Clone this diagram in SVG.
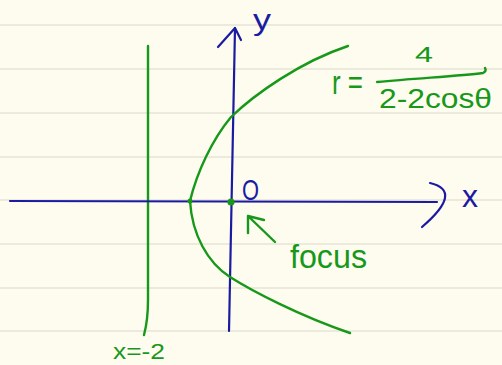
<svg xmlns="http://www.w3.org/2000/svg" width="502" height="365" viewBox="0 0 502 365">
<style>
.paper{stroke:#e6e4d6;stroke-width:1.6}
.blue{stroke:#1b1ba2;stroke-width:2.2;fill:none;stroke-linecap:round;stroke-linejoin:round}
.green{stroke:#17981a;stroke-width:2.4;fill:none;stroke-linecap:round;stroke-linejoin:round}
.tb{fill:#1b1ba2;font-family:"Liberation Sans","DejaVu Sans",sans-serif}
.tg{fill:#17981a;font-family:"Liberation Sans","DejaVu Sans",sans-serif}
</style>
<rect width="502" height="365" fill="#fdfcef"/>
<g id="paper-lines">
<line class="paper" x1="0" y1="25" x2="502" y2="25"/>
<line class="paper" x1="0" y1="69" x2="502" y2="69"/>
<line class="paper" x1="0" y1="113" x2="502" y2="113"/>
<line class="paper" x1="0" y1="157" x2="502" y2="157"/>
<line class="paper" x1="0" y1="200" x2="502" y2="200"/>
<line class="paper" x1="0" y1="244" x2="502" y2="244"/>
<line class="paper" x1="0" y1="288" x2="502" y2="288"/>
<line class="paper" x1="0" y1="331" x2="502" y2="331"/>
</g>
<g id="directrix">
<path class="green" d="M148,46 L148,300 Q148,320 144,335"/>
<text class="tg" x="113" y="359" font-size="22" textLength="52" lengthAdjust="spacingAndGlyphs">x=-2</text>
</g>
<g id="x-axis">
<path class="blue" d="M10,201 L437,202"/>
<path class="blue" d="M430,183 Q464,191 422,227"/>
<text class="tb" x="462" y="207" font-size="32">x</text>
</g>
<g id="y-axis">
<path class="blue" d="M229,331 L235,28"/>
<path class="blue" d="M218,47 L235,28 L241,40"/>
<text class="tb" x="253" y="30" font-size="30" textLength="18" lengthAdjust="spacingAndGlyphs">y</text>
</g>
<g id="parabola">
<path class="green" d="M190,201 C197,172 212,140 231,117 C255,94 300,62 348,46"/>
<path class="green" d="M190,201 C192,235 208,263 230,277 C252,291 300,316 350,333"/>
<circle cx="190" cy="201" r="2.5" fill="#17981a"/>
</g>
<g id="focus">
<circle cx="231" cy="202" r="3.6" fill="#17981a"/>
<text class="tb" x="242" y="200" font-size="29" textLength="17" lengthAdjust="spacingAndGlyphs">O</text>
<text class="tg" x="290" y="268" font-size="33" textLength="77" lengthAdjust="spacingAndGlyphs">focus</text>
</g>
<g id="equation">
<text class="tg" x="332" y="94" font-size="34" textLength="31" lengthAdjust="spacingAndGlyphs">r =</text>
<text class="tg" x="415" y="62" font-size="22" textLength="18" lengthAdjust="spacingAndGlyphs">4</text>
<path class="green" d="M377,82 C420,78 460,76 483,73 Q487,71 485,68"/>
<text class="tg" x="379" y="108" font-size="27" textLength="113" lengthAdjust="spacingAndGlyphs">2-2cosθ</text>
</g>
<g id="connectors">
<path class="green" d="M275,242 L248,216 M248,233 L248,216 L264,220"/>
</g>
</svg>
